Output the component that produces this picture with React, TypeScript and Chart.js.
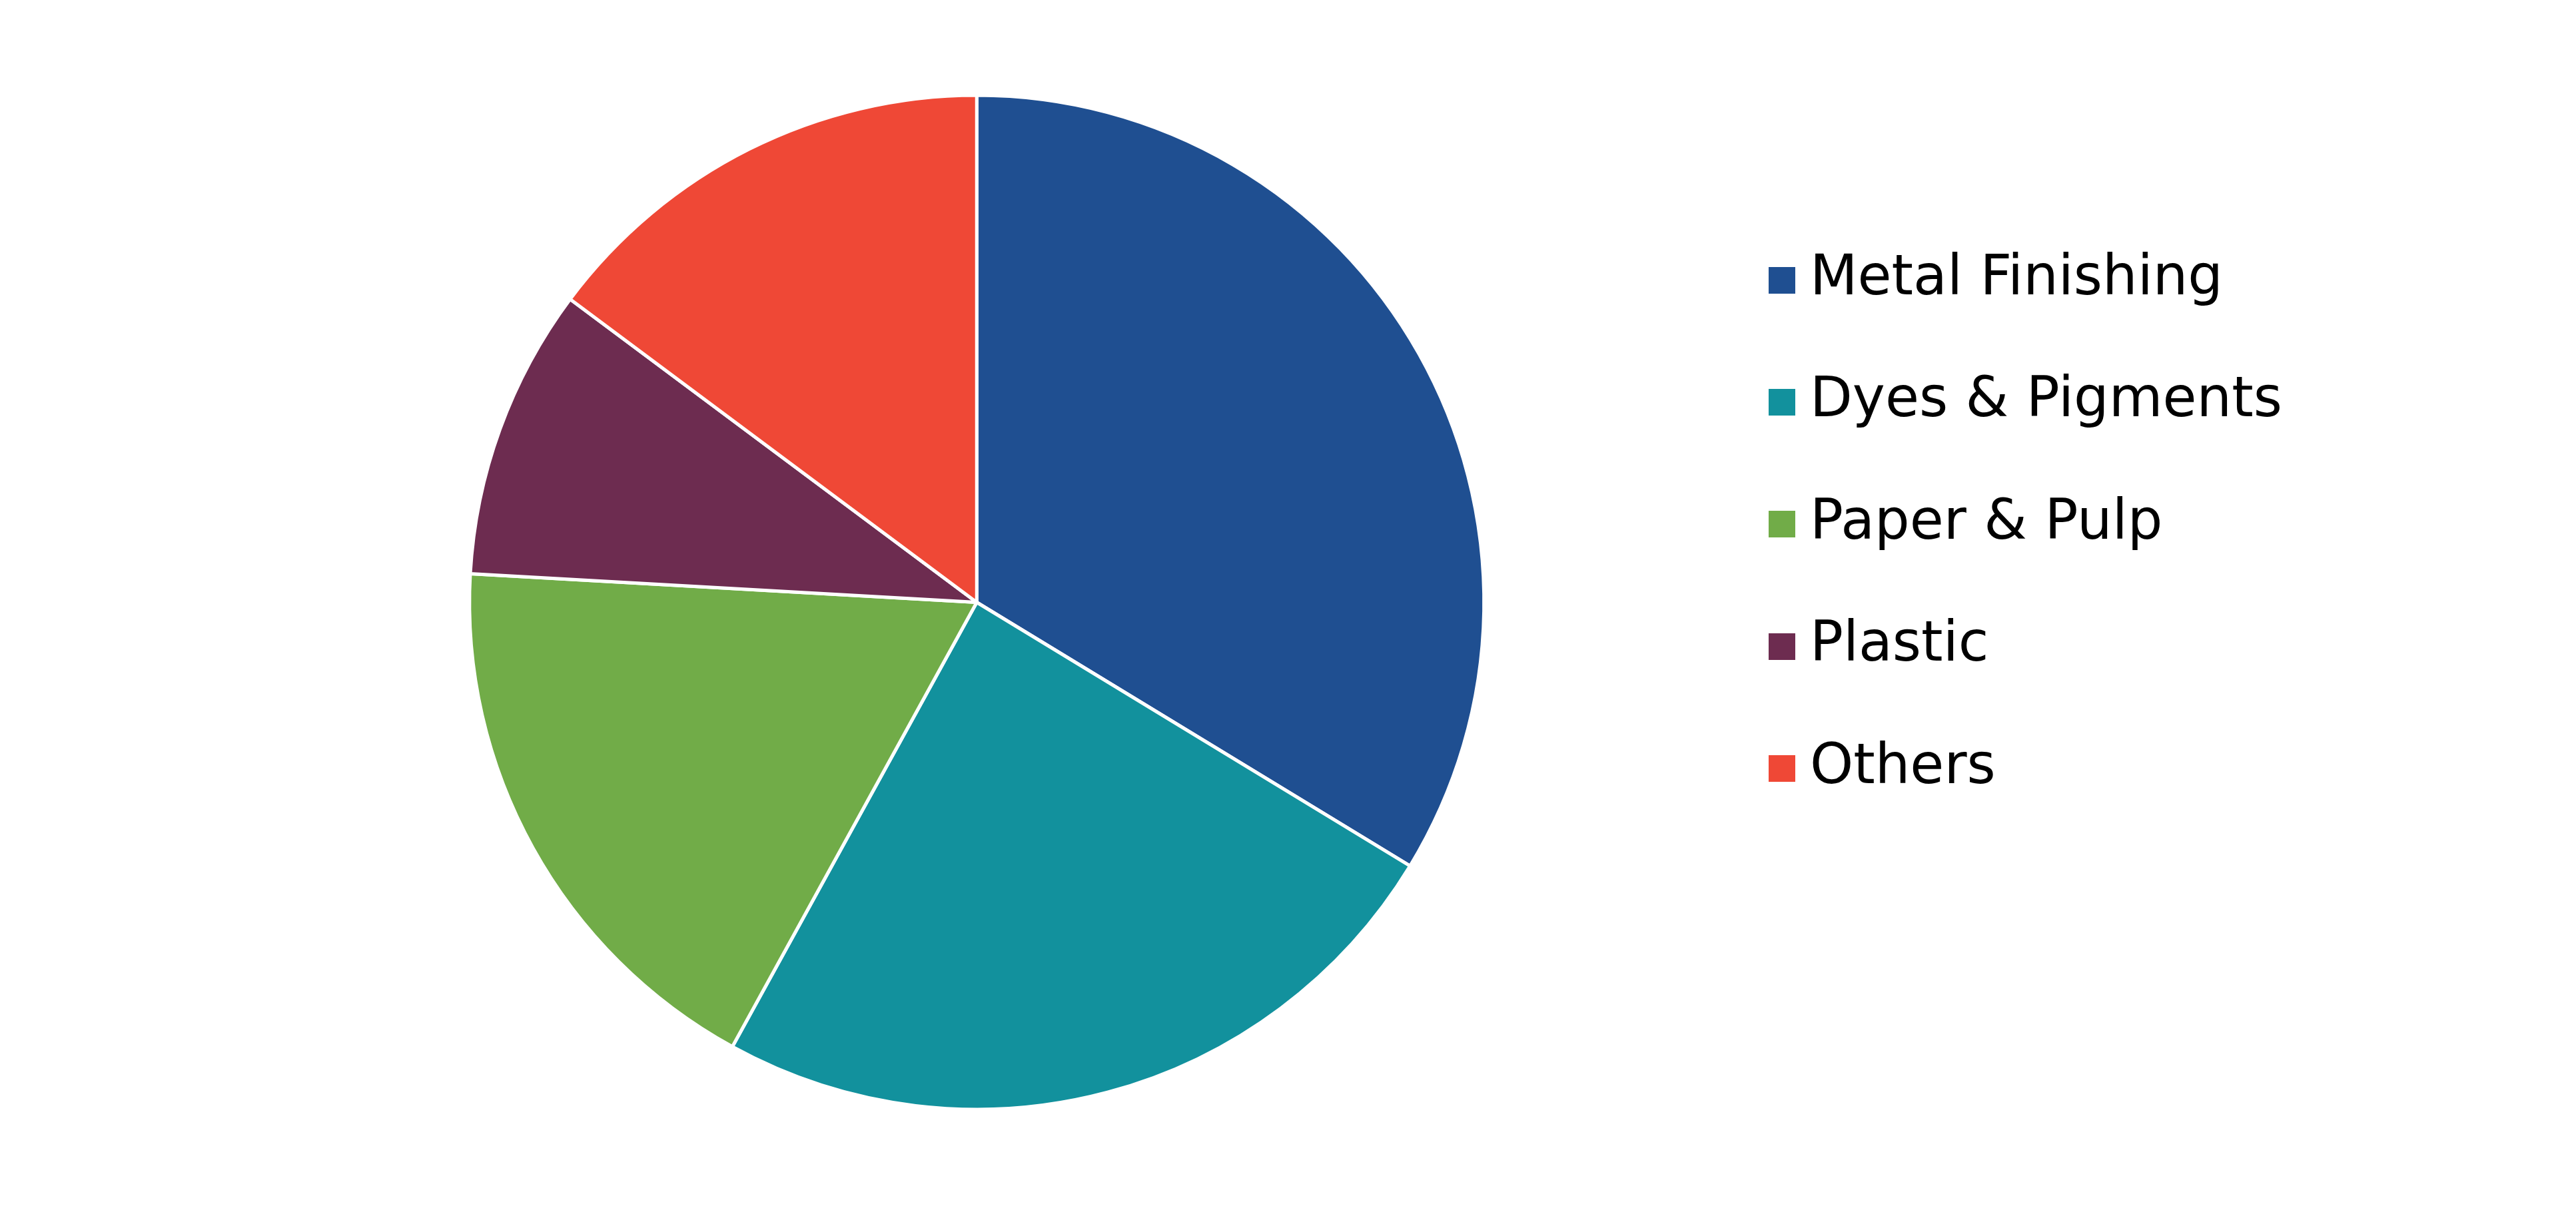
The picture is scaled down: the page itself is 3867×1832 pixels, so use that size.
import React, { useEffect, useRef } from "react";
import { Chart, registerables } from "chart.js";

Chart.register(...registerables);

const categories = ["Metal Finishing", "Dyes & Pigments", "Paper & Pulp", "Plastic", "Others"];
const shares = [33.7, 24.3, 17.9, 9.3, 14.8];
const colors = ["#1F4F91", "#12919D", "#71AC48", "#6D2C50", "#EF4836"];

const W = 3867;
const H = 1832;
const FONT = "'DejaVu Sans', Verdana, sans-serif";

function makeSwatch(color: string, size: number) {
  const c = document.createElement("canvas");
  c.width = size;
  c.height = size;
  const g = c.getContext("2d")!;
  g.fillStyle = color;
  g.fillRect(0, 0, size, size);
  return c;
}

export default function App() {
  const ref = useRef<HTMLCanvasElement | null>(null);

  useEffect(() => {
    if (!ref.current) return;
    const swatches = colors.map((c) => makeSwatch(c, 40));
    const chart = new Chart(ref.current, {
      type: "pie",
      data: {
        labels: categories,
        datasets: [
          {
            data: shares,
            backgroundColor: colors,
            borderColor: "#ffffff",
            borderWidth: 5,
            radius: 761.5,
            clip: false as any,
          },
        ],
      },
      options: {
        responsive: false,
        animation: false,
        devicePixelRatio: 1,
        layout: { padding: { left: 358.5, right: 431, top: 278.6, bottom: 301.6 } },
        plugins: {
          tooltip: { enabled: false },
          legend: {
            position: "right",
            align: "start",
            labels: {
              usePointStyle: true,
              pointStyleWidth: 1,
              boxHeight: 40,
              padding: 100.4,
              color: "#000000",
              font: { family: FONT, size: 83 },
              generateLabels: (ch: any) =>
                ch.data.labels.map((t: string, i: number) => ({
                  text: t,
                  fillStyle: colors[i],
                  strokeStyle: colors[i],
                  lineWidth: 0,
                  pointStyle: swatches[i],
                  hidden: false,
                  index: i,
                })),
            },
          },
        },
      },
    });
    return () => chart.destroy();
  }, []);

  return (
    <div style={{ position: "fixed", left: 0, top: 0, width: W, height: H, background: "#fff" }}>
      <canvas ref={ref} width={W} height={H} style={{ width: W, height: H, display: "block" }} />
    </div>
  );
}
